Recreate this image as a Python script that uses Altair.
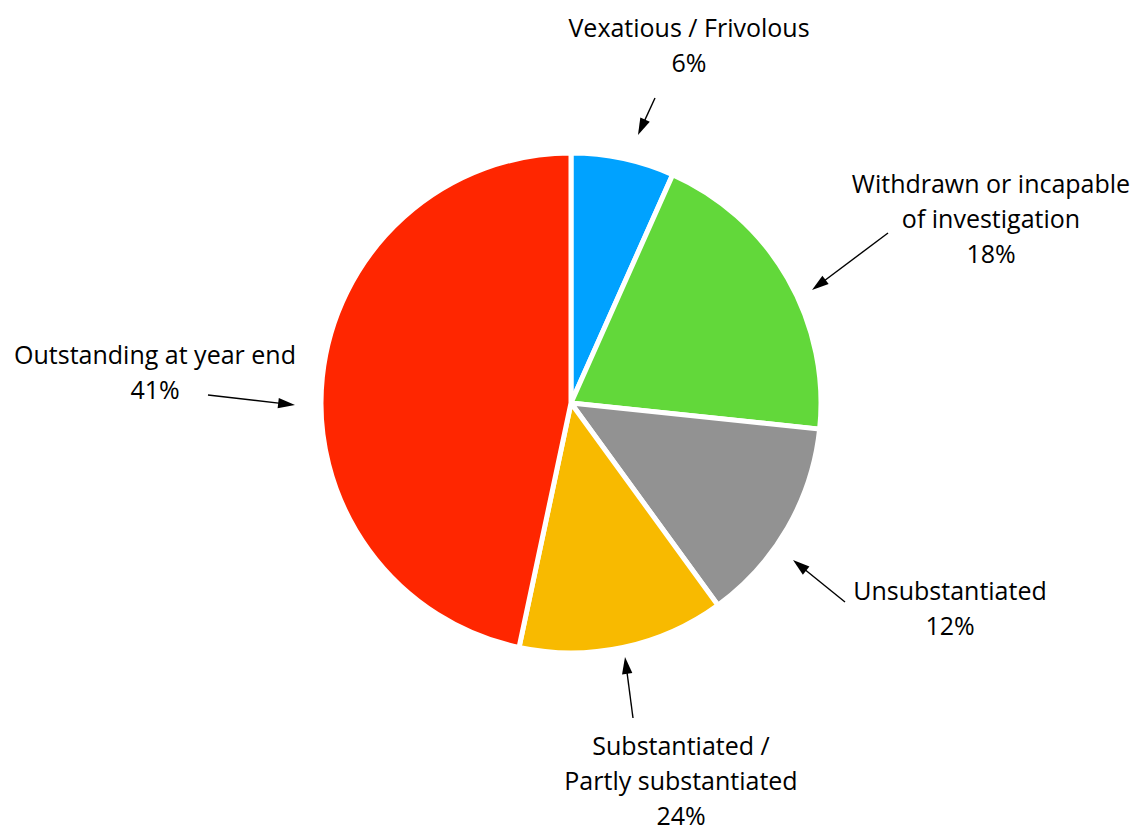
import math
import altair as alt
import pandas as pd

# Slice data (relative sizes read from the drawn wedges) and label texts
categories = ["Vexatious / Frivolous", "Withdrawn or incapable of investigation",
              "Unsubstantiated", "Substantiated / Partly substantiated",
              "Outstanding at year end"]
slice_values = [10, 30, 20, 20, 70]
colors = ["#00A2FF", "#62D83A", "#929292", "#F8BA00", "#FF2600"]
label_lines = [
    ["Vexatious / Frivolous", "6%"],
    ["Withdrawn or incapable", "of investigation", "18%"],
    ["Unsubstantiated", "12%"],
    ["Substantiated /", "Partly substantiated", "24%"],
    ["Outstanding at year end", "41%"],
]

# Annotation layout (chart pixel space)
W, H = 1125, 823
CX, CY, R = 563, 395, 250
label_anchor = [(681, 21), (983, 177), (942, 584), (673, 739), (147, 348)]
arrow_tail = [(647, 90), (880, 225), (837, 594), (625, 710), (200, 387)]
arrow_tip = [(630, 127), (804, 282), (785, 552), (617, 649), (287, 397)]
LINE_H = 35
FONT = "Open Sans"
FS = 25

pie_df = pd.DataFrame({"cat": categories, "value": slice_values,
                       "idx": list(range(len(categories)))})

text_rows = []
for i, lines in enumerate(label_lines):
    x0, y0 = label_anchor[i]
    for j, t in enumerate(lines):
        text_rows.append({"x": x0, "y": y0 + j * LINE_H, "t": t})
text_df = pd.DataFrame(text_rows)

rule_rows, head_rows = [], []
HEAD = 26  # symbol box side; drawn triangle is ~0.85 of it long
for (tx, ty), (hx, hy) in zip(arrow_tail, arrow_tip):
    dx, dy = hx - tx, hy - ty
    L = math.hypot(dx, dy)
    ux, uy = dx / L, dy / L
    ang = math.degrees(math.atan2(dx, -dy)) % 360
    rule_rows.append({"x": tx, "y": ty, "x2": hx - ux * 10, "y2": hy - uy * 10})
    head_rows.append({"x": hx - ux * HEAD / 2, "y": hy - uy * HEAD / 2, "a": ang})
rule_df = pd.DataFrame(rule_rows)
head_df = pd.DataFrame(head_rows)

xs = alt.Scale(domain=[0, W], nice=False, zero=False)
ys = alt.Scale(domain=[0, H], nice=False, zero=False, reverse=True)

pie = alt.Chart(pie_df).mark_arc(outerRadius=R, stroke="white", strokeWidth=5).encode(
    theta=alt.Theta("value:Q", stack=True),
    order=alt.Order("idx:O"),
    color=alt.Color("cat:N", scale=alt.Scale(domain=categories, range=colors), legend=None),
    x=alt.value(CX),
    y=alt.value(CY),
)

rules = alt.Chart(rule_df).mark_rule(color="black", strokeWidth=1.4).encode(
    x=alt.X("x:Q", scale=xs, axis=None),
    y=alt.Y("y:Q", scale=ys, axis=None),
    x2="x2:Q",
    y2="y2:Q",
)

heads = alt.Chart(head_df).mark_point(
    shape="M0,-1L0.4,0.3L-0.4,0.3Z", filled=True, color="black", opacity=1, size=HEAD * HEAD
).encode(
    x=alt.X("x:Q", scale=xs, axis=None),
    y=alt.Y("y:Q", scale=ys, axis=None),
    angle=alt.Angle("a:Q", scale=None),
)

texts = alt.Chart(text_df).mark_text(
    font=FONT, fontSize=FS, color="black", align="center", baseline="middle"
).encode(
    x=alt.X("x:Q", scale=xs, axis=None),
    y=alt.Y("y:Q", scale=ys, axis=None),
    text="t:N",
)

chart = alt.layer(pie, rules, heads, texts).properties(
    width=W, height=H, padding=0, autosize=alt.AutoSizeParams(type="none")
).configure_view(stroke=None)

chart.save("out.html", embed_options={"renderer": "svg", "actions": False})
